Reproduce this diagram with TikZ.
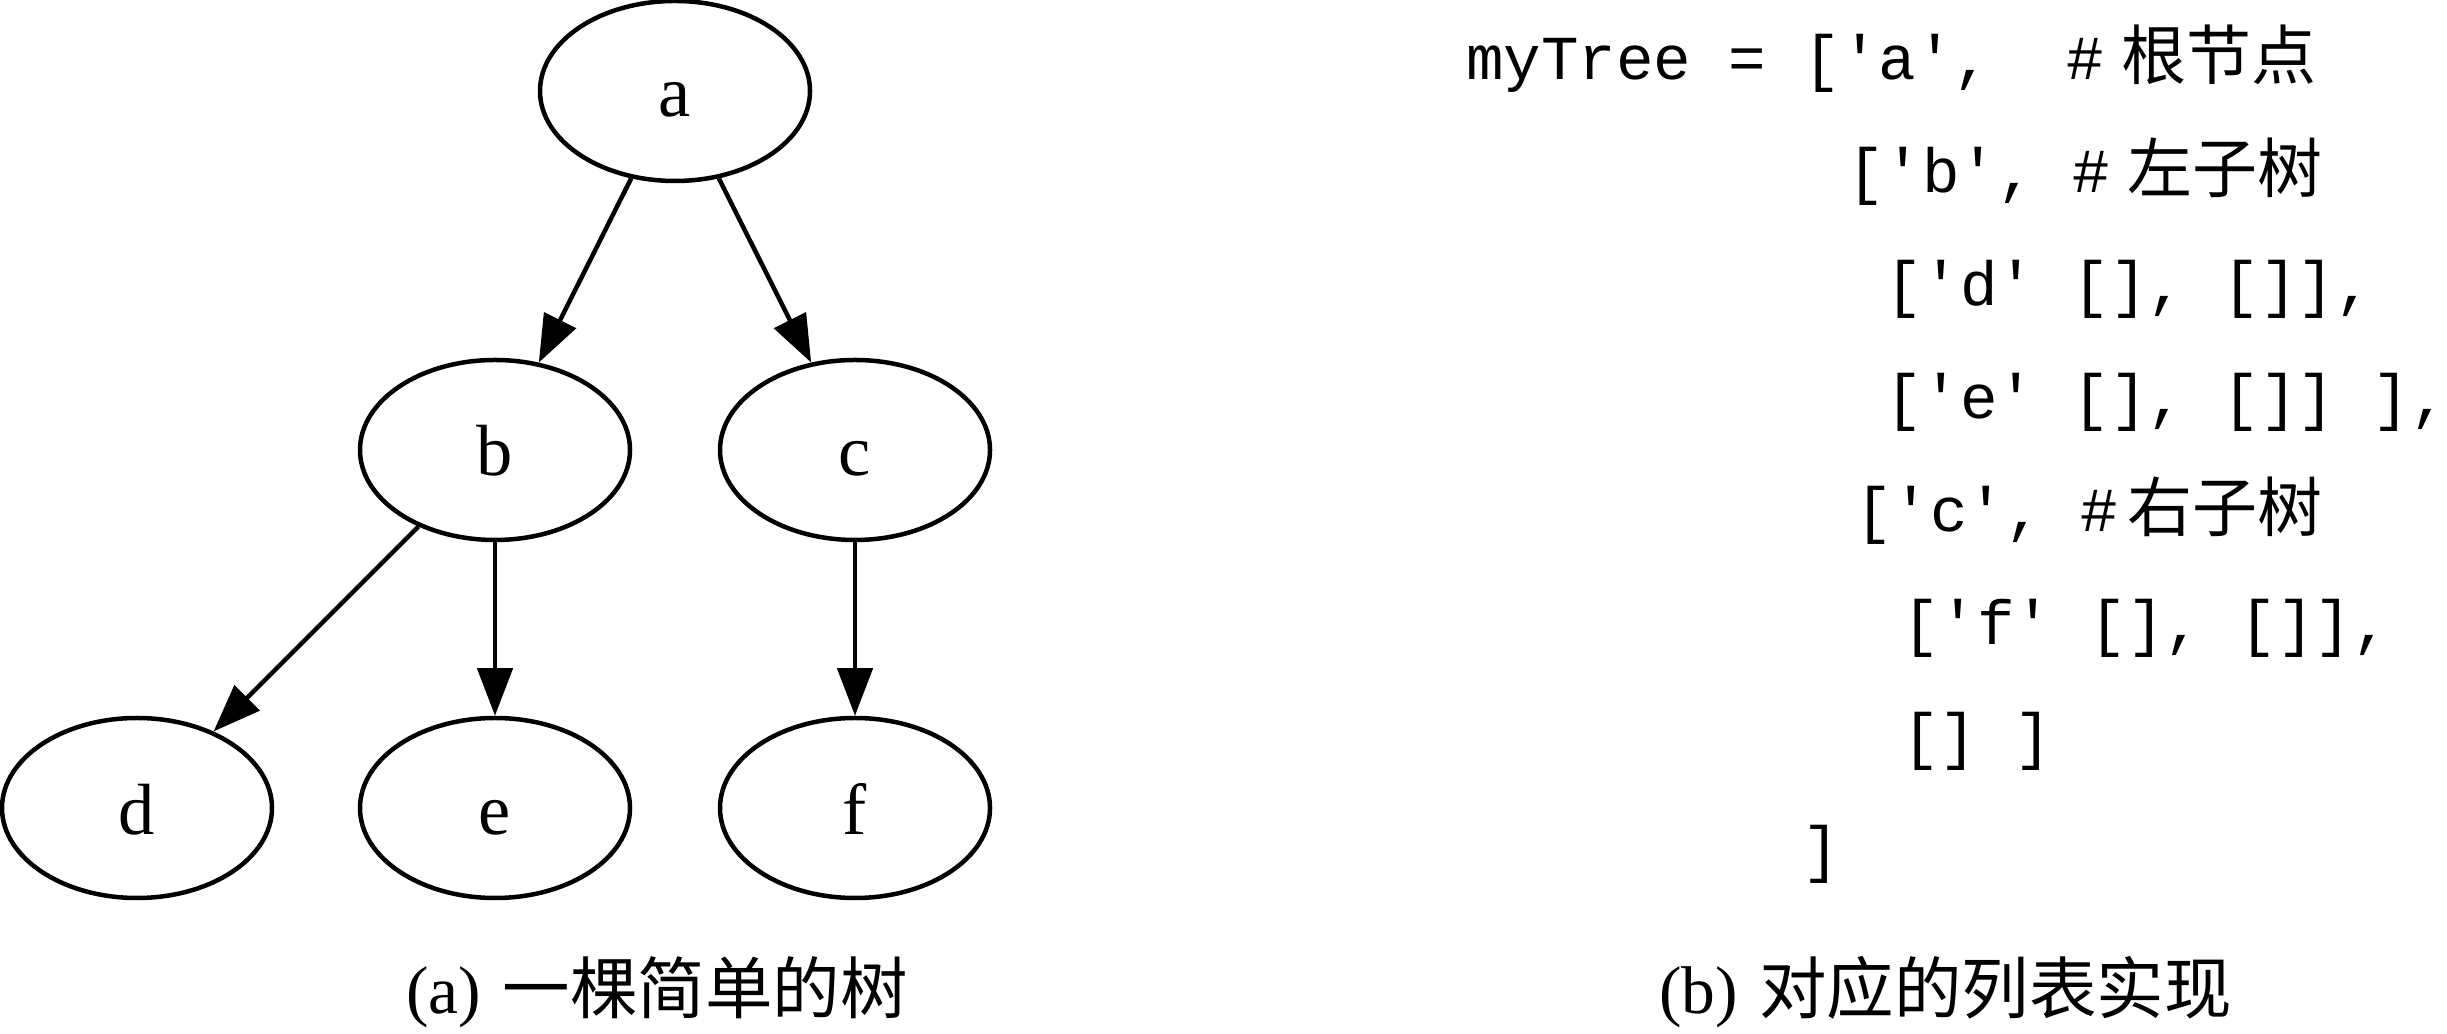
\documentclass[tikz,border=0pt]{standalone}
\usepackage{fontspec}
\setmainfont{Liberation Serif}
\setmonofont{Liberation Mono}
\newfontfamily\cjk{Noto Sans CJK SC}
\usetikzlibrary{arrows.meta,shapes.geometric}
\def\comment#1{{\cjk\fontsize{13}{15}\selectfont #1}}
\tikzset{
	treenode/.style={draw, ellipse, line width=0.9pt, minimum width=54pt, minimum height=36pt, inner sep=0pt, text height=13pt, text depth=2.6pt, font=\fontsize{14.5}{17}\selectfont},
	treeedge/.style={line width=0.9pt, -{Triangle[length=9.5pt,width=7pt]}},
	codeline/.style={anchor=base west, inner sep=0pt, font=\ttfamily\fontsize{12.5}{15}\selectfont},
	caption/.style={anchor=base west, inner sep=0pt, font=\fontsize{13.5}{16}\selectfont}
}

\begin{document}
\begin{tikzpicture}[x=0.2pt, y=-0.2pt]
		%%%%% START %%%%%
		\useasboundingbox (0, 0) rectangle (2447, 1034);
		
		\node[treenode] (a) at (675, 91) {a};
		\node[treenode] (b) at (495, 450) {b};
		\node[treenode] (c) at (855, 450) {c};
		\node[treenode] (d) at (137, 808) {d};
		\node[treenode] (e) at (495, 808) {e};
		\node[treenode] (f) at (855, 808) {f};
		
		\draw[treeedge] (a) -- (b);
		\draw[treeedge] (a) -- (c);
		\draw[treeedge] (b) -- (d);
		\draw[treeedge] (b) -- (e);
		\draw[treeedge] (c) -- (f);
		
		\node[caption] (capa) at (405, 1013) {(a)\hspace{0.32em}{\cjk 一棵简单的树}};
		
		\node[codeline] (line1) at (1465, 80) {myTree = ['a',\ \ \#\hspace{3.5pt}\comment{根节点}};
		\node[codeline] (line2) at (1846, 193) {['b',\ \#\hspace{3.5pt}\comment{左子树}};
		\node[codeline] (line3) at (1884, 306) {['d' [], []],};
		\node[codeline] (line4) at (1884, 419) {['e' [], []] ],};
		\node[codeline] (line5) at (1854, 532) {['c',\ \#\hspace{2pt}\comment{右子树}};
		\node[codeline] (line6) at (1901, 645) {['f' [], []],};
		\node[codeline] (line7) at (1901, 758) {[] ]};
		\node[codeline] (line8) at (1801, 871) {]};
		
		\node[caption] (capb) at (1658, 1013) {(b)\hspace{0.32em}{\cjk 对应的列表实现}};
		%%%%% END %%%%%
\end{tikzpicture}
\end{document}
